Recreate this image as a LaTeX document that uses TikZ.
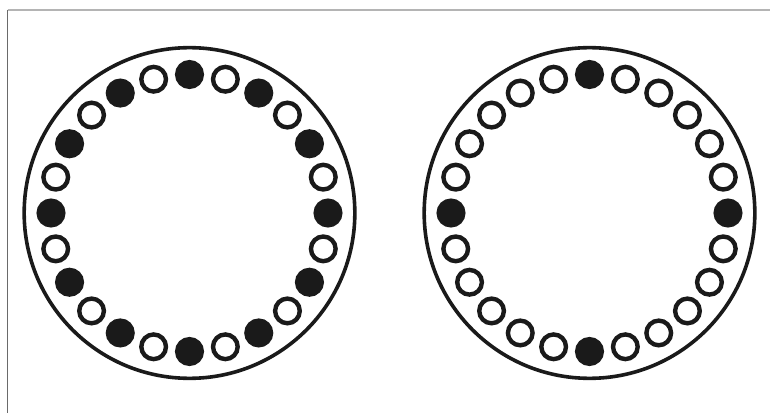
\documentclass[tikz,border=0pt]{standalone}
\usetikzlibrary{positioning}
\definecolor{ink}{HTML}{1A1A1A}
\definecolor{edge}{HTML}{B4B4B4}
\definecolor{side}{HTML}{6A6A6A}

\begin{document}
\begin{tikzpicture}[x=0.75pt,y=-0.75pt,
  wheel/.style={circle, draw=ink, line width=2.7pt, minimum size=248pt, inner sep=0pt},
  pegopen/.style={circle, draw=ink, line width=3.3pt, minimum size=18.5pt, inner sep=0pt},
  pegfull/.style={pegopen, fill=ink}]
  \useasboundingbox (0,0) rectangle (770,413);

  % frame lines
  \draw[edge, line width=1.5pt] (7.5,10) -- (770,10);
  \draw[side, line width=1.1pt] (7.5,10) -- (7.5,413);

  % left wheel: every other peg filled
  \node (lwheel) [wheel] at (189.5,213) {};
  \foreach \i in {0,...,23}{
    \pgfmathtruncatemacro\odd{mod(\i,2)}
    \ifnum\odd=0 \def\kind{pegfull}\else\def\kind{pegopen}\fi
    \node (l\i) [\kind] at ([shift={(90-15*\i:138.5)}]lwheel.center) {};
  }

  % right wheel: four pegs filled
  \node (rwheel) [wheel] at (589.5,213) {};
  \foreach \i in {0,...,23}{
    \pgfmathtruncatemacro\odd{mod(\i,6)}
    \ifnum\odd=0 \def\kind{pegfull}\else\def\kind{pegopen}\fi
    \node (r\i) [\kind] at ([shift={(90-15*\i:138.5)}]rwheel.center) {};
  }
\end{tikzpicture}
\end{document}
